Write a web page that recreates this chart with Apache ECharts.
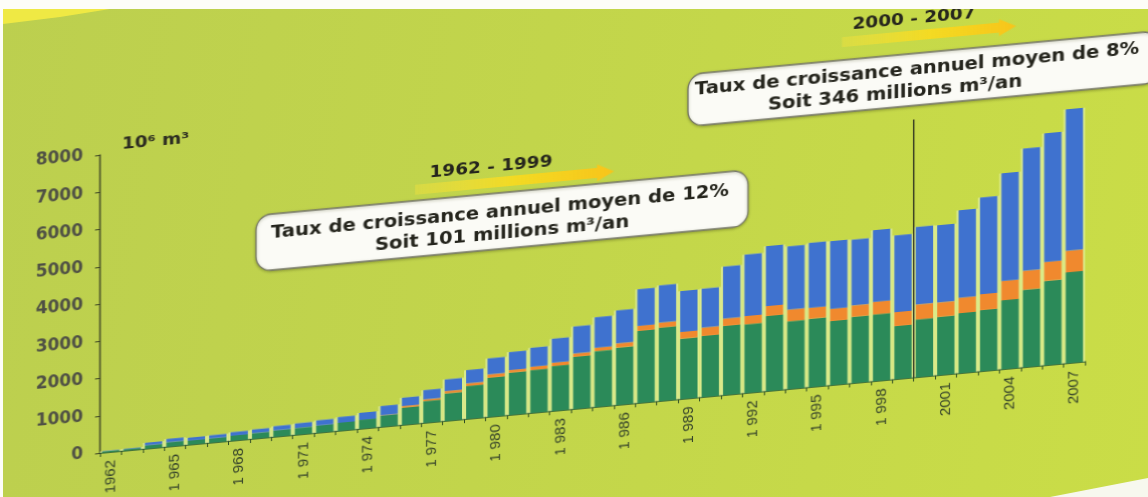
<!DOCTYPE html>
<html>
<head>
<meta charset="utf-8">
<title>Volumes annuels 1962-2007</title>
<script src="https://cdn.jsdelivr.net/npm/echarts@6/dist/echarts.min.js"></script>
<style>
  html, body { margin: 0; padding: 0; }
  body {
    width: 1148px; height: 497px; overflow: hidden; position: relative;
    background: linear-gradient(100deg, #bccf4f 0%, #c2d54b 45%, #cadd47 100%);
  }
  #chart {
    position: absolute; left: 0; top: 0; width: 1148px; height: 497px;
    /* the printed page is photographed at a slant: baseline rises to the right */
    transform-origin: 100px 453px;
    transform: skewY(-5.3deg);
  }
  .paper { position: absolute; background: #fdfdf8; z-index: 5; }
  #topEdge { left: 0; top: 0; width: 1148px; height: 9px; }
  #leftEdge { left: 0; top: 0; width: 3px; height: 497px; }
  #cornerBR { left: 0; top: 0; width: 1148px; height: 497px; background: #f7f8ee;
    clip-path: polygon(1050px 497px, 1148px 478px, 1148px 497px); }
  #yellowBand { position: absolute; left: 0; top: 0; width: 1148px; height: 497px; z-index: 4;
    background: #efe944; clip-path: polygon(3px 9px, 110px 9px, 60px 17px, 3px 24px); }
</style>
</head>
<body>
<div id="chart"></div>
<div id="topEdge" class="paper"></div>
<div id="leftEdge" class="paper"></div>
<div id="cornerBR" class="paper"></div>
<div id="yellowBand"></div>
<script>
// Years on the category axis
const years = [
  '1962','1963','1964','1965','1966','1967','1968','1969','1970','1971',
  '1972','1973','1974','1975','1976','1977','1978','1979','1980','1981',
  '1982','1983','1984','1985','1986','1987','1988','1989','1990','1991',
  '1992','1993','1994','1995','1996','1997','1998','1999','2000','2001',
  '2002','2003','2004','2005','2006','2007'
];

// Printed tick labels (one every three years)
const yearTickLabels = [
  '1962','','','1 965','','','1 968','','','1 971',
  '','','1 974','','','1 977','','','1 980','',
  '','1 983','','','1 986','','','1 989','','',
  '1 992','','','1 995','','','1 998','','','2001',
  '','','2004','','','2007'
];

// Volumes in 10^6 m3, bottom segment (green)
const greenValues = [
  30, 40, 90, 120, 110, 115, 135, 150, 170, 180,
  195, 215, 240, 300, 462, 585, 738, 883, 1052, 1135,
  1150, 1205, 1400, 1500, 1540, 1935, 1970, 1620, 1640, 1855,
  1845, 2015, 1820, 1835, 1720, 1780, 1790, 1425, 1550, 1565,
  1610, 1640, 1850, 2080, 2265, 2440
];

// Middle segment (orange)
const orangeValues = [
  0, 0, 0, 0, 0, 0, 0, 0, 0, 0,
  0, 0, 0, 10, 43, 45, 62, 72, 90, 70,
  90, 90, 90, 90, 115, 135, 135, 180, 225, 200,
  225, 270, 315, 295, 330, 305, 340, 375, 400, 385,
  420, 430, 520, 510, 510, 580
];

// Top segment (blue)
const blueValues = [
  10, 15, 70, 90, 80, 85, 95, 100, 115, 125,
  140, 155, 190, 250, 225, 250, 314, 357, 430, 483,
  510, 645, 725, 820, 885, 985, 1000, 1100, 1045, 1395,
  1650, 1610, 1700, 1745, 1815, 1770, 1925, 2060, 2085, 2075,
  2345, 2595, 2890, 3285, 3455, 3800
];

// Value-axis ticks
const yTicks = [0, 1000, 2000, 3000, 4000, 5000, 6000, 7000, 8000];

// Period annotations
const periods = [
  { range: '1962 - 1999', line1: 'Taux de croissance annuel moyen de 12%', line2: 'Soit 101 millions m³/an', lastYear: '1999' },
  { range: '2000 - 2007', line1: 'Taux de croissance annuel moyen de 8%',  line2: 'Soit 346 millions m³/an', firstYear: '2000' }
];

const totals = years.map((_, i) => greenValues[i] + orangeValues[i] + blueValues[i]);

const chart = echarts.init(document.getElementById('chart'), null, { renderer: 'canvas' });

const textFont = 'DejaVu Sans, Liberation Sans, sans-serif';
const stretch = 1.15;

function label(x, y, text, size, color) {
  return {
    type: 'text', x: x, y: y, scaleX: stretch, z: 20,
    style: { text: text, fontFamily: textFont, fontWeight: 'bold', fontSize: size,
             fill: color || '#24241c', align: 'center', verticalAlign: 'middle' }
  };
}

function arrow(x0, x1, cy, id) {
  const h = 5, hh = 8.5, head = 17;
  return {
    type: 'polygon', z: 15, id: id,
    shape: { points: [[x0, cy - h], [x1 - head, cy - h], [x1 - head, cy - hh], [x1, cy],
                      [x1 - head, cy + hh], [x1 - head, cy + h], [x0, cy + h]] },
    style: {
      fill: new echarts.graphic.LinearGradient(0, 0, 1, 0, [
        { offset: 0, color: 'rgba(246,226,60,0.4)' },
        { offset: 0.5, color: 'rgba(248,218,30,0.9)' },
        { offset: 1, color: '#f7c41a' }
      ])
    }
  };
}

function box(x, y, w, h) {
  return {
    type: 'rect', z: 12,
    shape: { x: x, y: y, width: w, height: h, r: 15 },
    style: { fill: '#fbfbf6', stroke: '#77786a', lineWidth: 1.3,
             shadowBlur: 3, shadowColor: 'rgba(60,70,20,0.35)', shadowOffsetY: 1 }
  };
}

chart.setOption({
  backgroundColor: 'transparent',
  animation: false,
  grid: { left: 100, top: 155, width: 985, height: 298, containLabel: false, outerBoundsMode: 'none' },
  xAxis: [{
    type: 'category',
    data: years,
    axisLine: { lineStyle: { color: '#1f5636', width: 1.5 } },
    axisTick: { show: true, interval: 0, length: 4, lineStyle: { color: '#2d4a22' } },
    axisLabel: {
      interval: 0, rotate: 90, margin: 8,
      fontFamily: 'Liberation Sans, Arial, sans-serif', fontSize: 15, color: '#34422a',
      formatter: (v, i) => yearTickLabels[i]
    }
  }, {
    type: 'category', data: years, show: false
  }],
  yAxis: {
    type: 'value', min: 0, max: 8000, interval: 1000,
    splitLine: { show: false },
    axisLine: { show: true, lineStyle: { color: '#3c4424', width: 1.5 } },
    axisTick: { show: true, length: 5, lineStyle: { color: '#3c4424' } },
    axisLabel: {
      margin: 17, fontFamily: textFont, fontWeight: 'bold', fontSize: 17, color: '#4e4f44',
      formatter: (v) => yTicks.indexOf(v) >= 0 ? String(v) : ''
    }
  },
  series: [
    {
      // pale strips visible between neighbouring bars
      type: 'bar', xAxisIndex: 1, data: totals, barCategoryGap: '0%',
      itemStyle: { color: 'rgba(225,240,160,0.75)' }, z: 1, silent: true
    },
    { name: 'green', type: 'bar', stack: 'v', data: greenValues, barCategoryGap: '19%',
      itemStyle: { color: '#2b8a59' }, z: 3 },
    { name: 'orange', type: 'bar', stack: 'v', data: orangeValues,
      itemStyle: { color: '#f0892e' }, z: 3 },
    { name: 'blue', type: 'bar', stack: 'v', data: blueValues,
      itemStyle: { color: '#3f72cf' }, z: 3 }
  ]
});

// annotations, placed after the axes exist so the split line follows the scale
const x1999 = chart.convertToPixel({ xAxisIndex: 0 }, periods[0].lastYear);
const x2000 = chart.convertToPixel({ xAxisIndex: 0 }, periods[1].firstYear);
const splitX = (x1999 + x2000) / 2;
const yZero = chart.convertToPixel({ yAxisIndex: 0 }, 0);

chart.setOption({
  graphic: [
    {
      type: 'text', x: 122, y: 147, z: 20, scaleX: stretch,
      style: { text: '10⁶ m³', fontFamily: textFont, fontWeight: 'bold', fontSize: 16,
               fill: '#2a2a20', align: 'left', verticalAlign: 'middle' }
    },
    label(491, 204, periods[0].range, 16),
    arrow(415, 614, 219, 'a1'),
    box(256, 230, 492, 56),
    label(500, 250, periods[0].line1, 17),
    label(502, 272, periods[0].line2, 17),

    label(914, 95, periods[1].range, 16),
    arrow(842, 1016, 111, 'a2'),
    box(688, 129, 470, 52),
    label(917, 146, periods[1].line1, 17),
    label(895, 168, periods[1].line2, 17),

    {
      type: 'line', z: 10,
      shape: { x1: splitX, y1: 195, x2: splitX, y2: yZero },
      style: { stroke: '#2e3320', lineWidth: 1.4 }
    }
  ]
});
</script>
</body>
</html>
